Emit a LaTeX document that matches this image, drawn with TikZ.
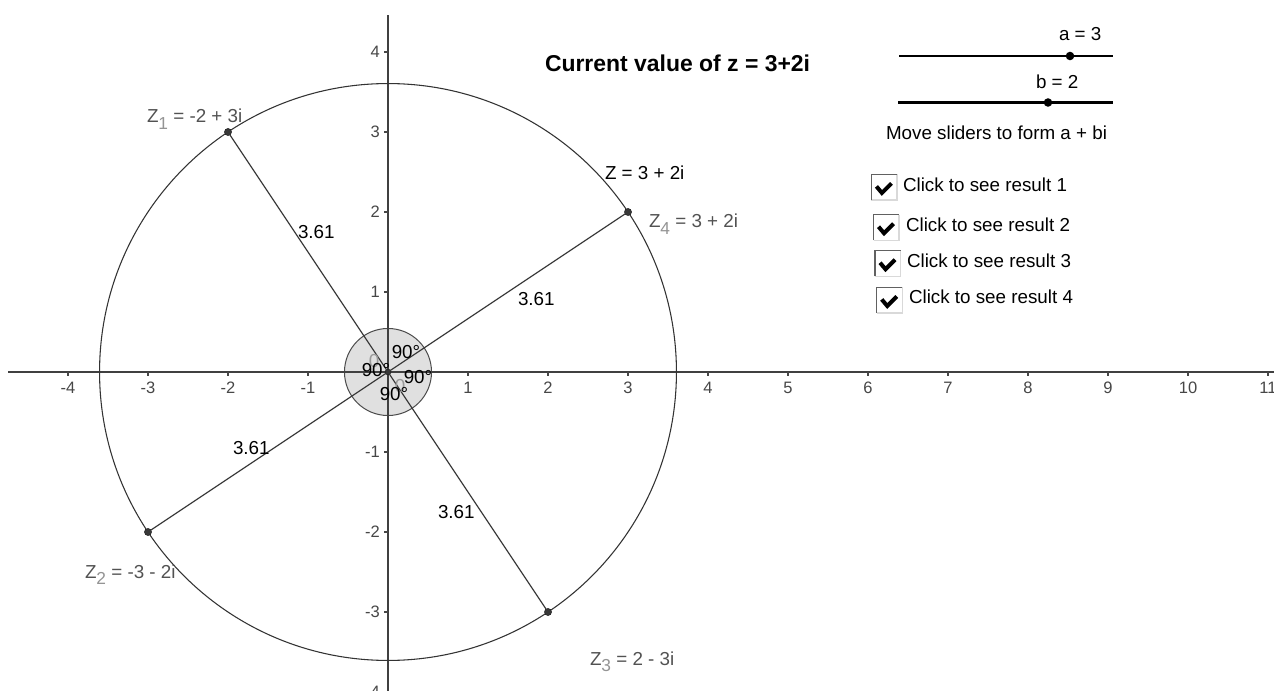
\documentclass[tikz,border=0pt]{standalone}
\usepackage{fontspec}
\setmainfont{Liberation Sans}
\newcommand\zsub[1]{\raisebox{-5pt}{\fontsize{13}{15}\selectfont\textcolor{black!42}{#1}}}
\begin{document}
\begin{tikzpicture}[x=0.75pt,y=-0.75pt,
  txt/.style={font=\fontsize{14.1}{16}\selectfont, inner sep=0pt, outer sep=0pt, anchor=base west},
  ptlbl/.style={txt, text=black!68},
  ticklbl/.style={font=\fontsize{12.4}{14}\selectfont, text=black!72, inner sep=0pt},
  axisline/.style={draw=black!75, line width=1.1pt},
  segline/.style={draw=black!78, line width=0.85pt},
  ptdot/.style={circle, fill=black!78, draw=black!90, line width=0.3pt, inner sep=0pt, minimum size=5.4pt},
  sdot/.style={circle, fill=black, inner sep=0pt, minimum size=6.4pt},
  sliderline/.style={draw=black, line width=1.6pt},
  cbox/.style={rectangle, fill=white, inner sep=0pt, minimum size=18.75pt},
  checkmark/.style={draw=black, line width=3pt, line join=miter, line cap=butt}]
\path[use as bounding box] (0,0) rectangle (1274,691);
\clip (0,0) rectangle (1274,691);
\fill[white] (0,0) rectangle (1274,691);

\begin{scope}[shift={(291pt,-279pt)}, x=60pt, y=60pt]
  \coordinate (O) at (0,0);
  % angle disk
  \filldraw[fill=black!12, draw=black!70, line width=0.75pt] (O) circle[radius=0.544];
  % axes
  \coordinate (xa0) at (-4.75,0);
  \coordinate (xa1) at (11.2,0);
  \coordinate (ya0) at (0,-4.2);
  \coordinate (ya1) at (0,4.4625);
  \draw[axisline] (xa0) -- (xa1);
  \draw[axisline] (ya0) -- (ya1);
  \foreach \i in {-4,-3,-2,-1,1,2,3,4,5,6,7,8,9,10,11} {
    \draw[draw=black!72, line width=0.8pt] (\i,0) -- (\i,-0.055);
    \node[ticklbl] (xt\i) at (\i,-0.195) {\i};
  }
  \foreach \j in {-4,-3,-2,-1,1,2,3,4} {
    \draw[draw=black!72, line width=0.8pt] (0,\j) -- (-0.055,\j);
    \node[ticklbl, anchor=east] (yt\j) at (-0.1,\j) {\j};
  }
  % big circle
  \draw[draw=black!80, line width=0.8pt] (O) circle[radius=3.60555];
  % points
  \node[ptdot] (Z1) at (-2,3) {};
  \node[ptdot] (Z2) at (-3,-2) {};
  \node[ptdot] (Z3) at (2,-3) {};
  \node[ptdot] (Z4) at (3,2) {};
  \node[ptdot, minimum size=4.5pt] (Oc) at (O) {};
  \draw[segline] (Oc.center) -- (Z1.center);
  \draw[segline] (Oc.center) -- (Z2.center);
  \draw[segline] (Oc.center) -- (Z3.center);
  \draw[segline] (Oc.center) -- (Z4.center);
\end{scope}

% faint zero glyphs near origin
\node[txt, text=black!40, anchor=center] (g0a) at (374,361) {0};
\node[txt, text=black!40, anchor=center] (g0b) at (400,386) {0};
% angle labels
\node[txt, anchor=center] (ang1) at (406,352) {90°};
\node[txt, anchor=center] (ang2) at (376,370) {90°};
\node[txt, anchor=center] (ang3) at (418,377) {90°};
\node[txt, anchor=center] (ang4) at (394,394) {90°};

% distance labels
\node[txt] (d1) at (298,239) {3.61};
\node[txt] (d2) at (518,306) {3.61};
\node[txt] (d3) at (233,455) {3.61};
\node[txt] (d4) at (438,518) {3.61};

% point labels
\node[ptlbl] (lZ1) at (147,123) {Z\zsub{1} = -2 + 3i};
\node[ptlbl] (lZ2) at (85,578) {Z\zsub{2} = -3 - 2i};
\node[ptlbl] (lZ3) at (590,665) {Z\zsub{3} = 2 - 3i};
\node[ptlbl] (lZ4) at (649,228) {Z\zsub{4} = 3 + 2i};
\node[txt] (lZ) at (605,180) {Z = 3 + 2i};

% title
\node[txt, font=\fontsize{17.2}{19}\selectfont\bfseries] (title) at (545,72) {Current value of z = 3+2i};

% sliders
\coordinate (a0) at (899,56);
\coordinate (a1) at (1113,56);
\coordinate (b0) at (898,102.5);
\coordinate (b1) at (1113,102.5);
\draw[sliderline] (a0) -- (a1);
\draw[sliderline] (b0) -- (b1);
\node[sdot] (ap) at (1070,56) {};
\node[sdot] (bp) at (1048,102.5) {};
\node[txt] (al) at (1059,41) {a = 3};
\node[txt] (bl) at (1036,89) {b = 2};
\node[txt] (mv) at (886,140) {Move sliders to form a + bi};

% checkboxes
\foreach \k/\bx/\by/\tx/\ty in {1/884.2/187.2/903/192, 2/886.3/227.5/906/232, 3/887.8/263.5/907/268, 4/889.5/300.2/909/304} {
  \node[cbox] (cb\k) at (\bx,\by) {};
  \draw[draw=black!15, line width=0.9pt] (cb\k.north east) -- (cb\k.south east) -- (cb\k.south west);
  \draw[draw=black!62, line width=0.9pt] (cb\k.south west) -- (cb\k.north west) -- (cb\k.north east);
  \draw[checkmark] ([shift={(5,12)}]cb\k.north west) -- ([shift={(10.5,18.5)}]cb\k.north west) -- ([shift={(20,9)}]cb\k.north west);
  \node[txt] (ct\k) at (\tx,\ty) {Click to see result \k};
}
\end{tikzpicture}
\end{document}
